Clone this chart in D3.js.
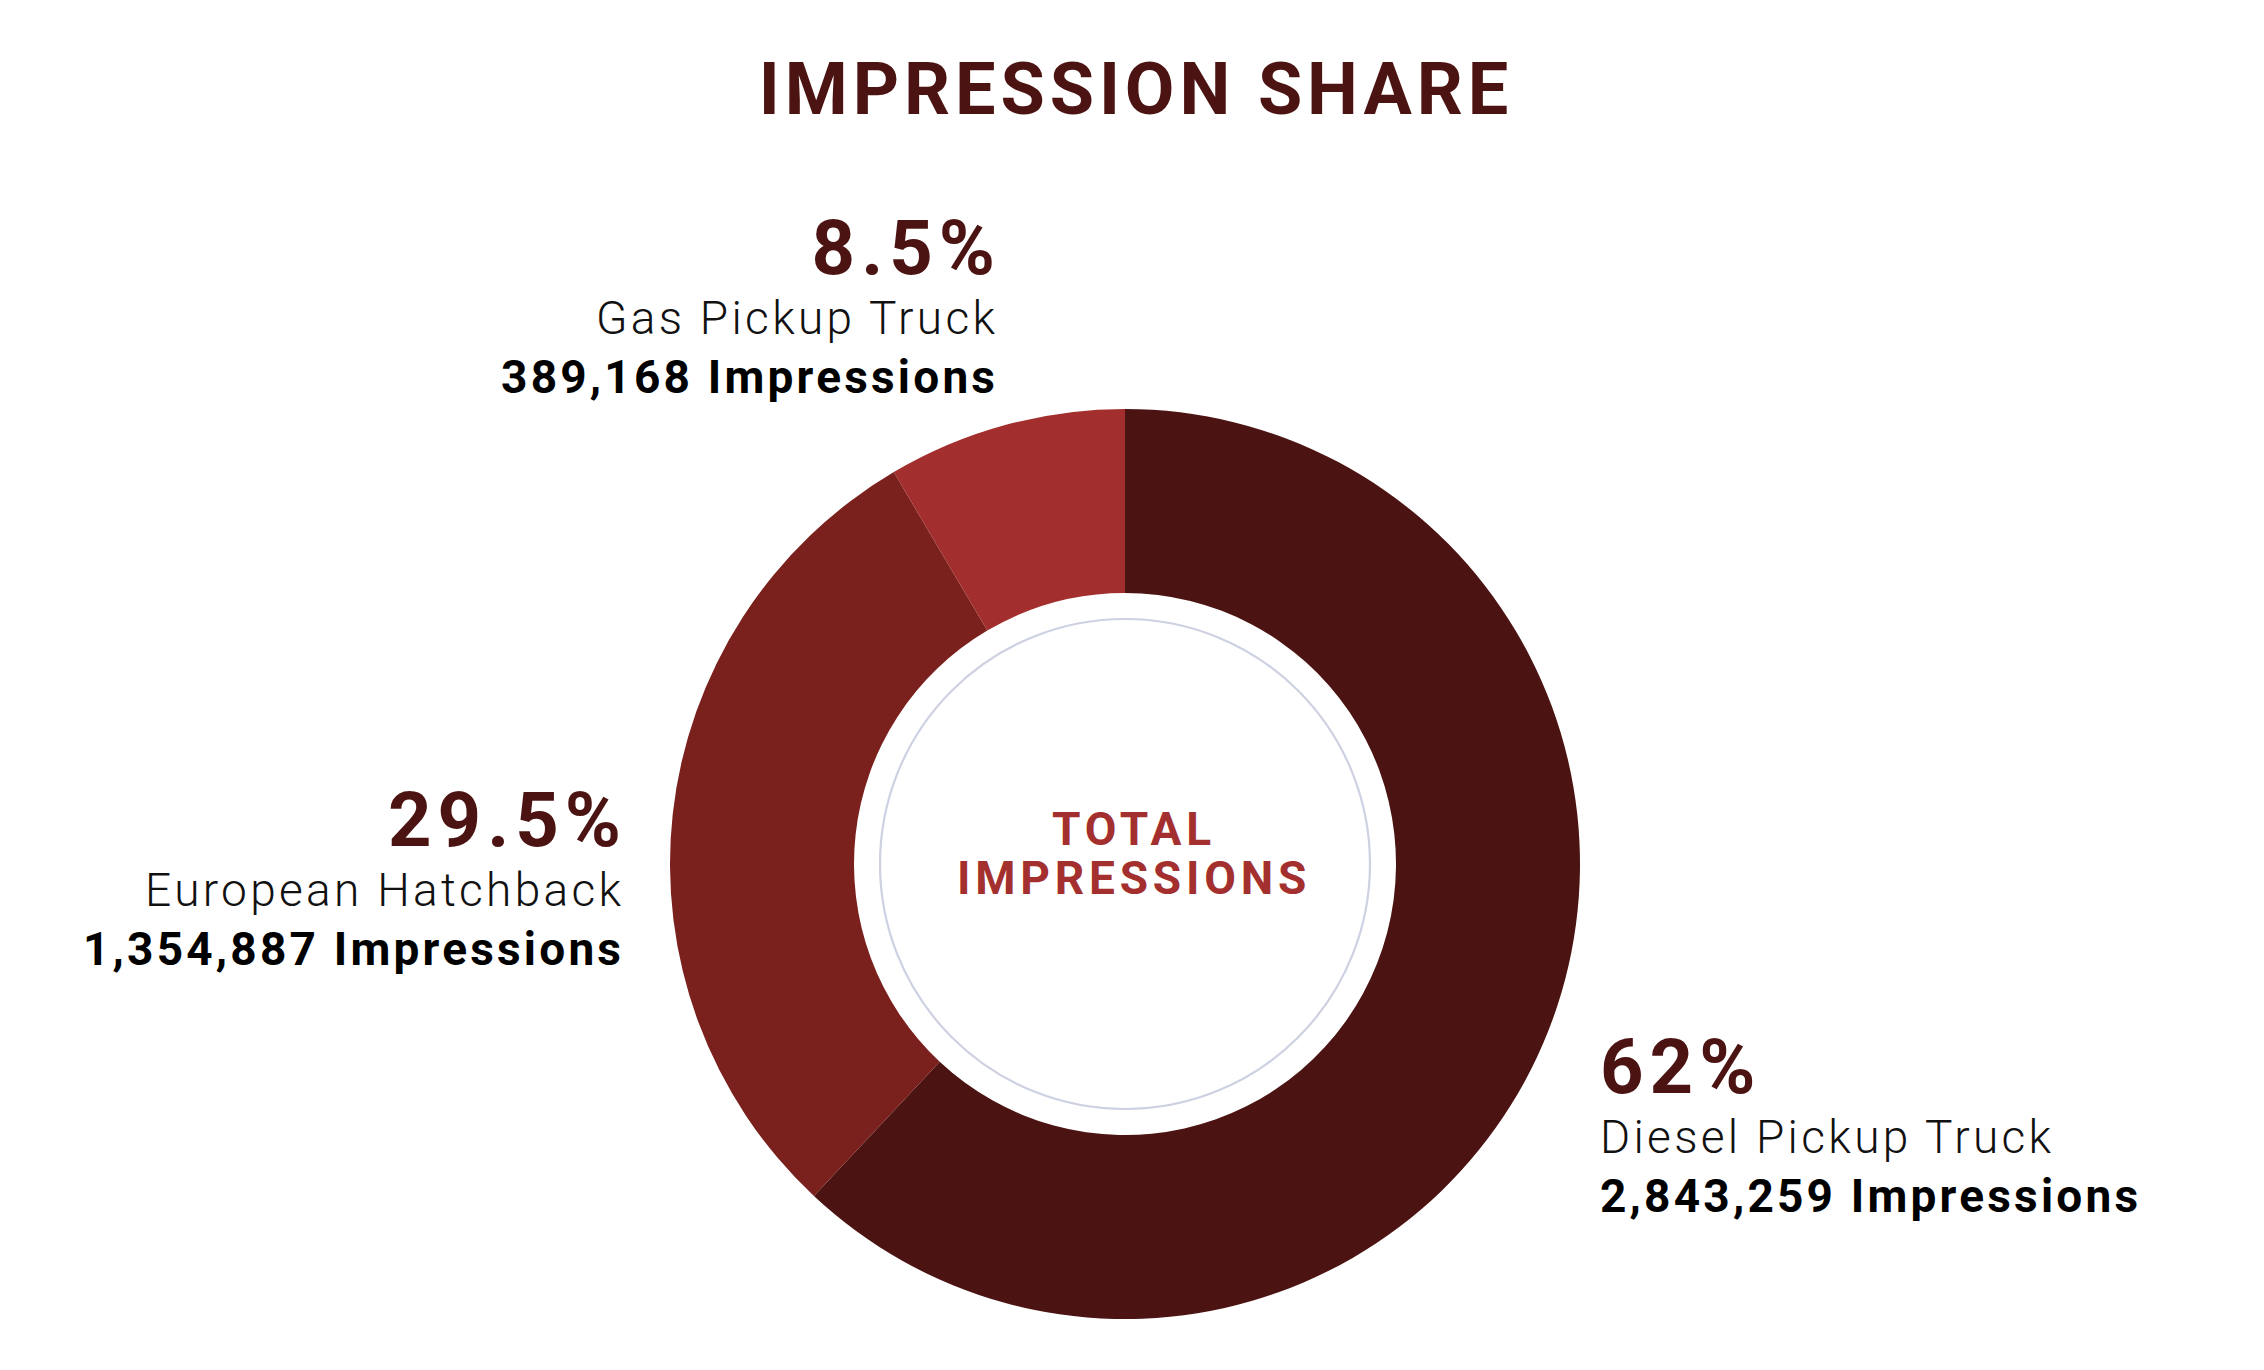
<!DOCTYPE html>
<html>
<head>
<meta charset="utf-8">
<script src="https://cdn.jsdelivr.net/npm/d3@7/dist/d3.min.js"></script>
<style>
  html, body { margin: 0; padding: 0; background: #ffffff; }
  svg { display: block; }
</style>
</head>
<body>
<svg id="chart" width="2264" height="1370"></svg>
<script>
// ---- data ----
const categories = ["Diesel Pickup Truck", "European Hatchback", "Gas Pickup Truck"];
const impressions = [2843259, 1354887, 389168];
const shareLabels = ["62%", "29.5%", "8.5%"];
const sliceColors = ["#4b1311", "#7a201d", "#a22f2d"];
const titleText = "IMPRESSION SHARE";
const centerLines = ["TOTAL", "IMPRESSIONS"];

const W = 2264, H = 1370;
const cx = 1125, cy = 864;
const outerR = 455, innerR = 271, ringR = 245;

const svg = d3.select("#chart");
const data = categories.map((c, i) => ({ name: c, value: impressions[i], share: shareLabels[i], color: sliceColors[i] }));

const pie = d3.pie().sort(null).value(d => d.value).startAngle(0).endAngle(2 * Math.PI);
const arc = d3.arc().innerRadius(innerR).outerRadius(outerR);
const arcs = pie(data);

const g = svg.append("g").attr("transform", `translate(${cx},${cy})`);
g.selectAll("path.slice").data(arcs).enter().append("path")
  .attr("class", "slice")
  .attr("d", arc)
  .attr("fill", d => d.data.color);

g.append("circle").attr("r", ringR).attr("fill", "none")
  .attr("stroke", "#cdd1e2").attr("stroke-width", 2.2);

const font = "Roboto, 'DejaVu Sans', sans-serif";

// title
svg.append("text").attr("x", 1136).attr("y", 114)
  .attr("text-anchor", "middle").attr("font-family", font)
  .attr("font-weight", 700).attr("font-size", 72)
  .attr("letter-spacing", 4.9)
  .attr("fill", "#4b1311").text(titleText);

// center text
const ct = g.append("g").attr("transform", "translate(9,0)");
ct.selectAll("text").data(centerLines).enter().append("text")
  .attr("x", 0).attr("y", (d, i) => -19 + i * 49)
  .attr("text-anchor", "middle").attr("font-family", font)
  .attr("font-weight", 700).attr("font-size", 46)
  .attr("letter-spacing", 4.8)
  .attr("fill", "#a3302e").text(d => d);

// slice labels: anchor and position chosen per slice side
const fmt = d3.format(",");
const labelPos = [
  { x: 1600, y: 1093, anchor: "start" },
  { x: 621, y: 846, anchor: "end" },
  { x: 995, y: 274, anchor: "end" }
];
const lines = [
  { dy: 0, weight: 700, size: 76, ls: 6, fill: "#4b1311", text: d => d.share },
  { dy: 60, weight: 300, size: 46, ls: 3.3, fill: "#111111", text: d => d.name },
  { dy: 119, weight: 700, size: 46, ls: 3.2, fill: "#000000", text: d => fmt(d.value) + " Impressions" }
];
const lg = svg.selectAll("g.label").data(data).enter().append("g").attr("class", "label")
  .attr("transform", (d, i) => `translate(${labelPos[i].x},${labelPos[i].y})`);
lines.forEach(L => {
  lg.append("text")
    .attr("x", (d, i) => labelPos[i].anchor === "end" ? L.ls : 0)
    .attr("y", L.dy)
    .attr("text-anchor", (d, i) => labelPos[i].anchor)
    .attr("font-family", font).attr("font-weight", L.weight).attr("font-size", L.size)
    .attr("letter-spacing", L.ls).attr("fill", L.fill)
    .text(L.text);
});
</script>
</body>
</html>
